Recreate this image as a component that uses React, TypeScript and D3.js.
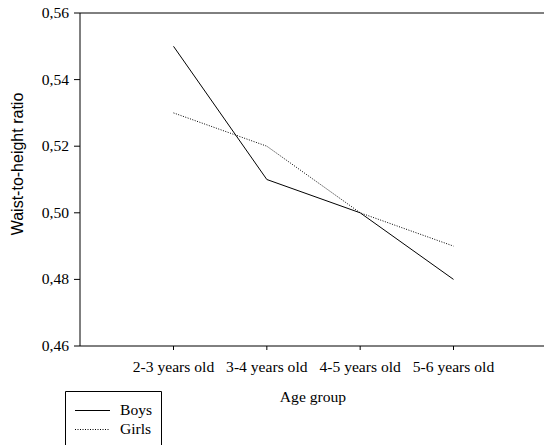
import React from "react";
import * as d3 from "d3";

const categories = ["2-3 years old", "3-4 years old", "4-5 years old", "5-6 years old"];
const boys = [0.55, 0.51, 0.5, 0.48];
const girls = [0.53, 0.52, 0.5, 0.49];
const yTicks = [0.46, 0.48, 0.5, 0.52, 0.54, 0.56];

export default function App() {
  const W = 544, H = 445;
  const left = 80, top = 13, bottom = 346, right = 544;
  const x = d3.scalePoint<string>().domain(categories).range([173.5, 453.5]);
  const y = d3.scaleLinear().domain([0.46, 0.56]).range([bottom, top]);
  const line = d3.line<number>().x((_, i) => x(categories[i])!).y((d) => y(d));
  const fmt = (v: number) => v.toFixed(2).replace(".", ",");
  const serif: React.CSSProperties = { fontFamily: "Liberation Serif, DejaVu Serif, serif", fontSize: 15.6 };
  const sans: React.CSSProperties = { fontFamily: "Liberation Sans, Arial, sans-serif", fontSize: 16 };
  return (
    <svg width={W} height={H} style={{ position: "absolute", left: 0, top: 0, background: "#fff" }}>
      <rect x={0} y={0} width={W} height={H} fill="#fff" />
      <line x1={left} x2={right} y1={top} y2={top} stroke="#000" strokeWidth={1} />
      <line x1={left} x2={right} y1={bottom} y2={bottom} stroke="#000" strokeWidth={1} />
      <line x1={left} x2={left} y1={top} y2={bottom} stroke="#000" strokeWidth={1} />
      {yTicks.map((t) => (
        <g key={t}>
          <line x1={left - 6} x2={left} y1={y(t)} y2={y(t)} stroke="#000" />
          <text x={left - 11} y={y(t) + 5} textAnchor="end" style={serif}>
            {fmt(t)}
          </text>
        </g>
      ))}
      {categories.map((c) => (
        <g key={c}>
          <line x1={x(c)} x2={x(c)} y1={bottom} y2={bottom + 4} stroke="#000" />
          <text x={x(c)} y={372} textAnchor="middle" style={serif}>
            {c}
          </text>
        </g>
      ))}
      <text x={313} y={402} textAnchor="middle" style={serif}>
        Age group
      </text>
      <text transform={`translate(23,164) rotate(-90)`} textAnchor="middle" style={sans}>
        Waist-to-height ratio
      </text>
      <path d={line(boys)!} fill="none" stroke="#000" strokeWidth={1} />
      <path d={line(girls)!} fill="none" stroke="#000" strokeWidth={1} strokeDasharray="1,1.5" />
      <path d={`M65.5,${H + 2} V391.5 H161.5 V${H + 2}`} fill="none" stroke="#000" strokeWidth={1} />
      <line x1={75} x2={110} y1={410.5} y2={410.5} stroke="#000" />
      <line x1={75} x2={110} y1={429.5} y2={429.5} stroke="#000" strokeDasharray="1,1.5" />
      <text x={120} y={415} style={serif}>Boys</text>
      <text x={120} y={434} style={serif}>Girls</text>
    </svg>
  );
}
